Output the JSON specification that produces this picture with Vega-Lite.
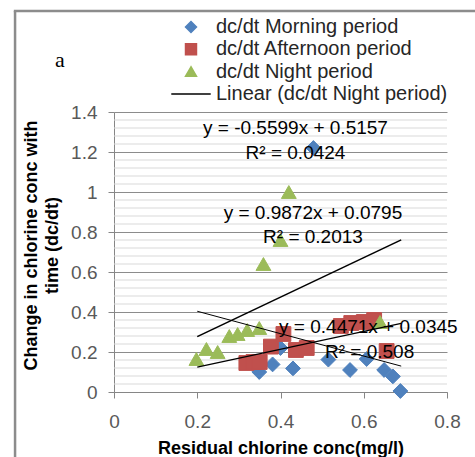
{
  "$schema": "https://vega.github.io/schema/vega-lite/v6.json",
  "width": 333,
  "height": 280,
  "autosize": {"type": "none"},
  "padding": {"left": 114, "top": 112, "right": 28, "bottom": 65},
  "background": "white",
  "config": {
    "view": {"stroke": null},
    "font": "Liberation Sans",
    "legend": {
      "title": null,
      "orient": "none",
      "legendX": 67,
      "legendY": -95,
      "padding": 0,
      "labelFontSize": 20,
      "labelColor": "#262626",
      "labelLimit": 400,
      "labelOffset": 15,
      "symbolSize": 120,
      "rowPadding": 2.3
    }
  },
  "datasets": {
    "points": [
      {"series": "dc/dt Morning period", "chlorine": 0.479, "dcdt": 1.22},
      {"series": "dc/dt Morning period", "chlorine": 0.349, "dcdt": 0.10},
      {"series": "dc/dt Morning period", "chlorine": 0.381, "dcdt": 0.138},
      {"series": "dc/dt Morning period", "chlorine": 0.40, "dcdt": 0.22},
      {"series": "dc/dt Morning period", "chlorine": 0.43, "dcdt": 0.118},
      {"series": "dc/dt Morning period", "chlorine": 0.515, "dcdt": 0.162},
      {"series": "dc/dt Morning period", "chlorine": 0.567, "dcdt": 0.11},
      {"series": "dc/dt Morning period", "chlorine": 0.607, "dcdt": 0.165},
      {"series": "dc/dt Morning period", "chlorine": 0.649, "dcdt": 0.11},
      {"series": "dc/dt Morning period", "chlorine": 0.67, "dcdt": 0.078},
      {"series": "dc/dt Morning period", "chlorine": 0.688, "dcdt": 0.005},
      {"series": "dc/dt Afternoon period", "chlorine": 0.318, "dcdt": 0.145},
      {"series": "dc/dt Afternoon period", "chlorine": 0.335, "dcdt": 0.15},
      {"series": "dc/dt Afternoon period", "chlorine": 0.35, "dcdt": 0.15},
      {"series": "dc/dt Afternoon period", "chlorine": 0.377, "dcdt": 0.227},
      {"series": "dc/dt Afternoon period", "chlorine": 0.407, "dcdt": 0.29},
      {"series": "dc/dt Afternoon period", "chlorine": 0.437, "dcdt": 0.21},
      {"series": "dc/dt Afternoon period", "chlorine": 0.463, "dcdt": 0.22},
      {"series": "dc/dt Afternoon period", "chlorine": 0.545, "dcdt": 0.33},
      {"series": "dc/dt Afternoon period", "chlorine": 0.57, "dcdt": 0.345},
      {"series": "dc/dt Afternoon period", "chlorine": 0.60, "dcdt": 0.35},
      {"series": "dc/dt Afternoon period", "chlorine": 0.625, "dcdt": 0.36},
      {"series": "dc/dt Afternoon period", "chlorine": 0.655, "dcdt": 0.205},
      {"series": "dc/dt Night period", "chlorine": 0.198, "dcdt": 0.165},
      {"series": "dc/dt Night period", "chlorine": 0.222, "dcdt": 0.215},
      {"series": "dc/dt Night period", "chlorine": 0.249, "dcdt": 0.20},
      {"series": "dc/dt Night period", "chlorine": 0.277, "dcdt": 0.28},
      {"series": "dc/dt Night period", "chlorine": 0.297, "dcdt": 0.29},
      {"series": "dc/dt Night period", "chlorine": 0.32, "dcdt": 0.31},
      {"series": "dc/dt Night period", "chlorine": 0.349, "dcdt": 0.32},
      {"series": "dc/dt Night period", "chlorine": 0.359, "dcdt": 0.64},
      {"series": "dc/dt Night period", "chlorine": 0.40, "dcdt": 0.76},
      {"series": "dc/dt Night period", "chlorine": 0.42, "dcdt": 1.0},
      {"series": "dc/dt Night period", "chlorine": 0.639, "dcdt": 0.35}
    ],
    "trend": [
      {"fit": "Morning", "chlorine": 0.2, "dcdt": 0.4037},
      {"fit": "Morning", "chlorine": 0.69, "dcdt": 0.1294},
      {"fit": "Afternoon", "chlorine": 0.2, "dcdt": 0.1239},
      {"fit": "Afternoon", "chlorine": 0.69, "dcdt": 0.3430},
      {"fit": "Night", "chlorine": 0.2, "dcdt": 0.2769},
      {"fit": "Night", "chlorine": 0.69, "dcdt": 0.7607}
    ],
    "notes": [
      {"chlorine": 0.436, "dcdt": 1.32, "text": "y = -0.5599x + 0.5157"},
      {"chlorine": 0.436, "dcdt": 1.195, "text": "R² = 0.0424"},
      {"chlorine": 0.478, "dcdt": 0.893, "text": "y = 0.9872x + 0.0795"},
      {"chlorine": 0.478, "dcdt": 0.777, "text": "R² = 0.2013"},
      {"chlorine": 0.611, "dcdt": 0.327, "text": "y = 0.4471x + 0.0345"},
      {"chlorine": 0.614, "dcdt": 0.202, "text": "R² = 0.508"}
    ],
    "minor": [
      {"v": 0.04}, {"v": 0.08}, {"v": 0.12}, {"v": 0.16},
      {"v": 0.24}, {"v": 0.28}, {"v": 0.32}, {"v": 0.36},
      {"v": 0.44}, {"v": 0.48}, {"v": 0.52}, {"v": 0.56},
      {"v": 0.64}, {"v": 0.68}, {"v": 0.72}, {"v": 0.76},
      {"v": 0.84}, {"v": 0.88}, {"v": 0.92}, {"v": 0.96},
      {"v": 1.04}, {"v": 1.08}, {"v": 1.12}, {"v": 1.16},
      {"v": 1.24}, {"v": 1.28}, {"v": 1.32}, {"v": 1.36}
    ]
  },
  "layer": [
    {
      "data": {"name": "minor"},
      "mark": {"type": "rule", "color": "#d9d9d9", "strokeWidth": 1},
      "encoding": {
        "y": {
          "field": "v",
          "type": "quantitative",
          "scale": {"domain": [0, 1.4], "nice": false, "zero": false},
          "axis": {
            "title": ["Change in chlorine conc with", "time (dc/dt)"],
            "values": [0, 0.2, 0.4, 0.6, 0.8, 1, 1.2, 1.4],
            "tickCount": 10,
            "format": "~g",
            "grid": true,
            "gridColor": "#8c8c8c",
            "gridWidth": 1,
            "domainColor": "#868686",
            "tickColor": "#868686",
            "tickSize": 6,
            "labelFontSize": 19,
            "labelColor": "#595959",
            "labelPadding": 11,
            "labelFlush": false,
            "labelOverlap": false,
            "titleFontSize": 18,
            "titleFontWeight": "bold",
            "titleColor": "#000000",
            "titleLineHeight": 21,
            "titleBaseline": "top",
            "titleX": -92,
            "titleY": 133
          }
        }
      }
    },
    {
      "data": {"name": "points"},
      "mark": {"type": "point", "filled": true, "opacity": 1, "size": 220, "strokeWidth": 1},
      "encoding": {
        "x": {
          "field": "chlorine",
          "type": "quantitative",
          "scale": {"domain": [0, 0.8], "nice": false, "zero": false},
          "axis": {
            "title": "Residual chlorine conc(mg/l)",
            "values": [0, 0.2, 0.4, 0.6, 0.8],
            "tickCount": 10,
            "format": "~g",
            "grid": false,
            "domainColor": "#868686",
            "tickColor": "#868686",
            "tickSize": 6,
            "labelFontSize": 19,
            "labelColor": "#595959",
            "labelPadding": 14,
            "labelFlush": false,
            "labelOverlap": false,
            "titleFontSize": 18,
            "titleFontWeight": "bold",
            "titleColor": "#000000",
            "titleBaseline": "alphabetic",
            "titleY": 61
          }
        },
        "y": {"field": "dcdt", "type": "quantitative"},
        "color": {
          "field": "series",
          "type": "nominal",
          "scale": {
            "domain": ["dc/dt Morning period", "dc/dt Afternoon period", "dc/dt Night period", "Linear (dc/dt Night period)"],
            "range": ["#4f81bd", "#c0504d", "#9bbb59", "#000000"]
          }
        },
        "stroke": {
          "field": "series",
          "type": "nominal",
          "scale": {
            "domain": ["dc/dt Morning period", "dc/dt Afternoon period", "dc/dt Night period", "Linear (dc/dt Night period)"],
            "range": ["#4f81bd", "#c0504d", "#9bbb59", "#000000"]
          }
        },
        "shape": {
          "field": "series",
          "type": "nominal",
          "scale": {
            "domain": ["dc/dt Morning period", "dc/dt Afternoon period", "dc/dt Night period", "Linear (dc/dt Night period)"],
            "range": ["diamond", "square", "triangle-up", "M-3.6,0H3.6"]
          }
        }
      }
    },
    {
      "data": {"name": "trend"},
      "mark": {"type": "line", "color": "#000000"},
      "encoding": {
        "x": {"field": "chlorine", "type": "quantitative"},
        "y": {"field": "dcdt", "type": "quantitative"},
        "detail": {"field": "fit"},
        "strokeWidth": {
          "field": "fit",
          "type": "nominal",
          "scale": {"domain": ["Morning", "Afternoon", "Night"], "range": [1, 1.6, 1]},
          "legend": null
        }
      }
    },
    {
      "data": {"name": "notes"},
      "mark": {"type": "text", "fontSize": 19, "color": "#000000", "align": "center", "baseline": "middle"},
      "encoding": {
        "x": {"field": "chlorine", "type": "quantitative"},
        "y": {"field": "dcdt", "type": "quantitative"},
        "text": {"field": "text"}
      }
    },
    {
      "data": {"values": [{}]},
      "mark": {"type": "text", "font": "Liberation Serif", "fontSize": 22, "color": "#000000", "align": "center", "baseline": "middle", "text": "a"},
      "encoding": {
        "x": {"datum": -0.13, "type": "quantitative"},
        "y": {"datum": 1.66, "type": "quantitative"}
      }
    },
    {
      "data": {"values": [{}]},
      "mark": {"type": "rule", "color": "#8c8c8c", "strokeWidth": 2.5},
      "encoding": {
        "x": {"datum": -0.2377, "type": "quantitative"},
        "y": {"datum": -0.4, "type": "quantitative"},
        "y2": {"datum": 1.905}
      }
    },
    {
      "data": {"values": [{}]},
      "mark": {"type": "rule", "color": "#8c8c8c", "strokeWidth": 2.5},
      "encoding": {
        "y": {"datum": 1.905, "type": "quantitative"},
        "x": {"datum": -0.2407, "type": "quantitative"},
        "x2": {"datum": 0.95}
      }
    }
  ]
}
